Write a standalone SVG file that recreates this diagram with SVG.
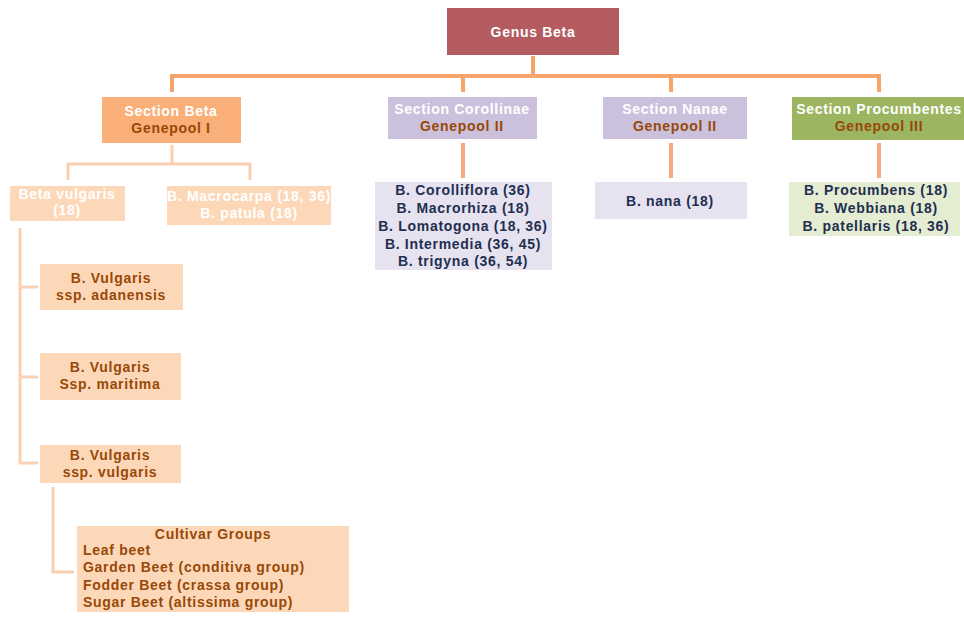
<svg xmlns="http://www.w3.org/2000/svg" width="964" height="617" viewBox="0 0 964 617">
<style>
text{font-family:"Liberation Sans",Arial,sans-serif;font-weight:bold;font-size:14px;letter-spacing:0.7px;text-anchor:middle}
.w{fill:#ffffff}
.br{fill:#984807}
.nv{fill:#1f2f50}
.c1{fill:none;stroke:#f5a56c;stroke-width:4}
.c2{fill:none;stroke:#fad0b2;stroke-width:3}
.c3{fill:none;stroke:#f6ad7e;stroke-width:4}
.pe{fill:#fcd8b9}
</style>
<rect width="964" height="617" fill="#ffffff"/>
<g id="connectors">
<path class="c1" d="M533 56V76M172 92V76H879V92M463 76V92M671 76V92"/>
<path class="c3" d="M463 143V178M671 143V178M879 143V178"/>
<path class="c2" d="M172 145V164M68 180V164H250V180"/>
<path class="c2" d="M20 228V463H38M20 287H38M20 377H38"/>
<path class="c2" d="M53 487V572H74"/>
</g>
<g id="genus"><rect x="447" y="8" width="172" height="47" fill="#b35b5f"/><text class="w" x="533" y="37">Genus Beta</text></g>
<g id="sec-beta"><rect x="102" y="97" width="139" height="46" fill="#f9af77"/><text class="w" x="171" y="116">Section Beta</text><text class="br" x="171" y="133">Genepool I</text></g>
<g id="sec-corollinae"><rect x="388" y="97" width="149" height="42" fill="#cbc1dc"/><text class="w" x="462" y="114">Section Corollinae</text><text class="br" x="462" y="131">Genepool II</text></g>
<g id="sec-nanae"><rect x="603" y="97" width="144" height="42" fill="#cbc1dc"/><text class="w" x="675" y="114">Section Nanae</text><text class="br" x="675" y="131">Genepool II</text></g>
<g id="sec-procumbentes"><rect x="792" y="97" width="172" height="43" fill="#9bb561"/><text class="w" x="879" y="114">Section Procumbentes</text><text class="br" x="879" y="131">Genepool III</text></g>
<g id="list-corollinae"><rect x="375" y="182" width="177" height="88" fill="#e6e2f0"/>
<text class="nv" x="463" y="195">B. Corolliflora (36)</text>
<text class="nv" x="463" y="213">B. Macrorhiza (18)</text>
<text class="nv" x="463" y="231">B. Lomatogona (18, 36)</text>
<text class="nv" x="463" y="249">B. Intermedia (36, 45)</text>
<text class="nv" x="463" y="266">B. trigyna (36, 54)</text></g>
<g id="list-nanae"><rect x="595" y="182" width="152" height="37" fill="#e6e2f0"/><text class="nv" x="670" y="206">B. nana (18)</text></g>
<g id="list-procumbentes"><rect x="789" y="182" width="171" height="54" fill="#e4ecd2"/>
<text class="nv" x="876" y="195">B. Procumbens (18)</text>
<text class="nv" x="876" y="213">B. Webbiana (18)</text>
<text class="nv" x="876" y="231">B. patellaris (18, 36)</text></g>
<g id="beta-vulgaris"><rect class="pe" x="10" y="186" width="115" height="35"/><text class="w" x="67" y="199">Beta vulgaris</text><text class="w" x="67" y="215">(18)</text></g>
<g id="macrocarpa"><rect class="pe" x="167" y="186" width="164" height="39"/><text class="w" x="249" y="201">B. Macrocarpa (18, 36)</text><text class="w" x="249" y="218">B. patula (18)</text></g>
<g id="ssp-adanensis"><rect class="pe" x="40" y="264" width="143" height="46"/><text class="br" x="111" y="283">B. Vulgaris</text><text class="br" x="111" y="300">ssp. adanensis</text></g>
<g id="ssp-maritima"><rect class="pe" x="40" y="353" width="141" height="47"/><text class="br" x="110" y="372">B. Vulgaris</text><text class="br" x="110" y="389">Ssp. maritima</text></g>
<g id="ssp-vulgaris"><rect class="pe" x="40" y="445" width="141" height="38"/><text class="br" x="110" y="460">B. Vulgaris</text><text class="br" x="110" y="477">ssp. vulgaris</text></g>
<g id="cultivar"><rect class="pe" x="77" y="526" width="272" height="86"/>
<text class="br" x="213" y="539">Cultivar Groups</text>
<text class="br" x="83" y="555" style="text-anchor:start">Leaf beet</text>
<text class="br" x="83" y="572" style="text-anchor:start">Garden Beet (conditiva group)</text>
<text class="br" x="83" y="590" style="text-anchor:start">Fodder Beet (crassa group)</text>
<text class="br" x="83" y="607" style="text-anchor:start">Sugar Beet (altissima group)</text></g>
</svg>
